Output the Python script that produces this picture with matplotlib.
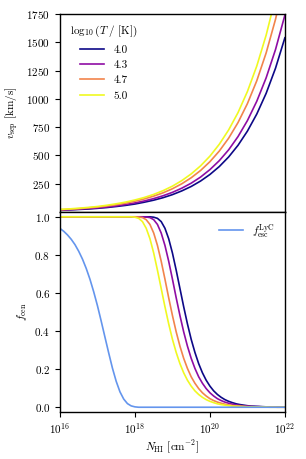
import numpy as np
import matplotlib
matplotlib.use("Agg")
import matplotlib.pyplot as plt

plt.rcParams.update({
    "font.family": "serif",
    "font.serif": ["cmr10", "DejaVu Serif"],
    "mathtext.fontset": "cm",
    "axes.formatter.use_mathtext": True,
    "axes.unicode_minus": False,
    "font.size": 8,
})

# ---- data ----
logT_labels = ["4.0", "4.3", "4.7", "5.0"]
logT_values = [4.0, 4.3, 4.7, 5.0]

log_N_top = [16.0, 16.25, 16.5, 16.75, 17.0, 17.25, 17.5, 17.75, 18.0, 18.25, 18.5, 18.75,
             19.0, 19.25, 19.5, 19.75, 20.0, 20.25, 20.5, 20.75, 21.0, 21.25, 21.5, 21.75, 22.0]

v_sep_40 = [15, 19, 23, 27, 33, 40, 49, 59, 71, 87, 105, 127, 154, 187, 226, 274, 332, 402,
            487, 590, 715, 866, 1049, 1271, 1540]
v_sep_43 = [17, 21, 26, 31, 37, 45, 55, 67, 81, 98, 119, 144, 174, 211, 255, 309, 375, 454,
            550, 667, 808, 979, 1186, 1436, 1740]
v_sep_47 = [21, 25, 30, 37, 44, 54, 65, 79, 96, 116, 141, 170, 206, 250, 303, 367, 445, 539,
            653, 791, 958, 1160, 1406, 1703, 2064]
v_sep_50 = [23, 28, 34, 41, 49, 60, 73, 88, 107, 129, 156, 189, 229, 278, 337, 408, 494, 599,
            726, 879, 1065, 1290, 1563, 1894, 2295]

log_N_bot = [16.0, 16.1, 16.2, 16.3, 16.4, 16.5, 16.6, 16.7, 16.8, 16.9,
             17.0, 17.1, 17.2, 17.3, 17.4, 17.5, 17.6, 17.7, 17.8, 17.9,
             18.0, 18.1, 18.2, 18.3, 18.4, 18.5, 18.6, 18.7, 18.8, 18.9,
             19.0, 19.1, 19.2, 19.3, 19.4, 19.5, 19.6, 19.7, 19.8, 19.9,
             20.0, 20.1, 20.2, 20.3, 20.4, 20.5, 20.6, 20.7, 20.8, 20.9,
             21.0, 21.1, 21.2, 21.3, 21.4, 21.5, 21.6, 21.7, 21.8, 21.9, 22.0]

f_cen_40 = [1] * 25 + [0.998, 0.992, 0.975, 0.94, 0.885, 0.81, 0.72, 0.624, 0.528, 0.438,
                       0.357, 0.288, 0.229, 0.181, 0.142, 0.111, 0.086, 0.067, 0.052, 0.04,
                       0.031, 0.024, 0.018, 0.014, 0.011, 0.008, 0.006, 0.005, 0.004, 0.003,
                       0.002, 0.002, 0.001, 0.001, 0.001, 0.001]
f_cen_43 = [1] * 23 + [0.999, 0.996, 0.985, 0.96, 0.915, 0.85, 0.767, 0.673, 0.575, 0.482,
                       0.396, 0.321, 0.257, 0.204, 0.16, 0.126, 0.098, 0.076, 0.059, 0.045,
                       0.035, 0.027, 0.021, 0.016, 0.012, 0.009, 0.007, 0.006, 0.004, 0.003,
                       0.003, 0.002, 0.001, 0.001, 0.001, 0.001, 0.001, 0]
f_cen_47 = [1] * 21 + [0.999, 0.996, 0.985, 0.96, 0.915, 0.85, 0.767, 0.673, 0.575, 0.482,
                       0.396, 0.321, 0.257, 0.204, 0.16, 0.126, 0.098, 0.076, 0.059, 0.045,
                       0.035, 0.027, 0.021, 0.016, 0.012, 0.009, 0.007, 0.006, 0.004, 0.003,
                       0.003, 0.002, 0.001, 0.001, 0.001, 0.001, 0.001, 0, 0, 0]
f_cen_50 = [1] * 20 + [0.998, 0.992, 0.975, 0.94, 0.885, 0.81, 0.72, 0.624, 0.528, 0.438,
                       0.357, 0.288, 0.229, 0.181, 0.142, 0.111, 0.086, 0.067, 0.052, 0.04,
                       0.031, 0.024, 0.018, 0.014, 0.011, 0.008, 0.006, 0.005, 0.004, 0.003,
                       0.002, 0.002, 0.001, 0.001, 0.001, 0.001, 0, 0, 0, 0, 0]

f_esc_lyc = [0.939, 0.924, 0.905, 0.882, 0.854, 0.819, 0.778, 0.729, 0.672, 0.606,
             0.533, 0.452, 0.368, 0.285, 0.205, 0.136, 0.081, 0.043, 0.019, 0.007,
             0.002] + [0] * 40

v_sep = [v_sep_40, v_sep_43, v_sep_47, v_sep_50]
f_cen = [f_cen_40, f_cen_43, f_cen_47, f_cen_50]

# ---- plot ----
fig = plt.figure(figsize=(3.06, 4.59), dpi=100)
ax1 = fig.add_axes([0.196, 0.538, 0.735, 0.4315])
ax2 = fig.add_axes([0.196, 0.1024, 0.735, 0.4356], sharex=ax1)

cmap = plt.get_cmap("plasma")
N_top = 10.0 ** np.array(log_N_top)
N_bot = 10.0 ** np.array(log_N_bot)
for i, lab in enumerate(logT_labels):
    c = cmap((logT_values[i] - 4.0) / 1.0)
    ax1.plot(N_top, v_sep[i], color=c, lw=1.2, label=lab)
    ax2.plot(N_bot, f_cen[i], color=c, lw=1.2)
ax2.plot(N_bot, f_esc_lyc, color="#6495ed", lw=1.2, label=r"$f_{\rm esc}^{\rm LyC}$")

ax1.set_xscale("log")
ax1.set_xlim(1e16, 1e22)
ax1.set_ylim(0, 1750)
ax1.set_yticks([250, 500, 750, 1000, 1250, 1500, 1750])
ax1.tick_params(axis="x", which="both", bottom=False, labelbottom=False)
ax1.set_ylabel(r"$v_{\rm sep}$ [km/s]")
ax1.legend(title=r"$\log_{10}(T\ /\ [{\rm K}])$", loc="upper left", frameon=False,
           fontsize=8, title_fontsize=8, handlelength=2.2)

ax2.set_ylim(-0.025, 1.025)
ax2.set_yticks([0.0, 0.2, 0.4, 0.6, 0.8, 1.0])
ax2.set_xticks([1e16, 1e18, 1e20, 1e22])
ax2.xaxis.set_minor_locator(matplotlib.ticker.NullLocator())
ax2.set_ylabel(r"$f_{\rm cen}$")
ax2.set_xlabel(r"$N_{\rm HI}$ [cm$^{-2}$]", labelpad=2)
ax2.legend(loc="upper right", frameon=False, fontsize=8, handlelength=2.2)

for ax in (ax1, ax2):
    ax.tick_params(direction="out", length=3.5, width=0.8, labelsize=8)
    for s in ax.spines.values():
        s.set_linewidth(1.0)

fig.savefig("out.png", dpi=100)
